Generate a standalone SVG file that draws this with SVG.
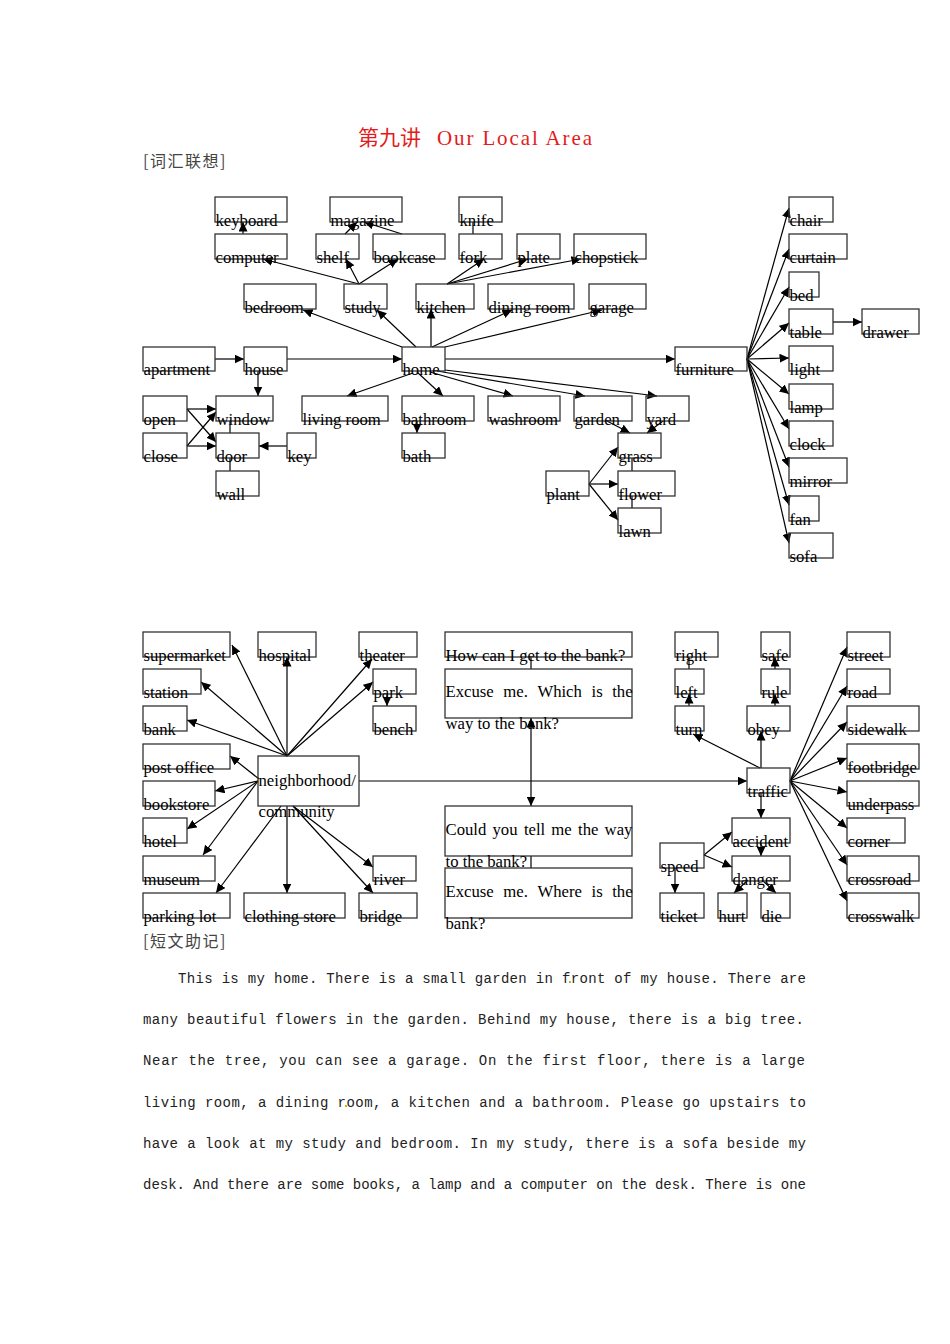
<svg xmlns="http://www.w3.org/2000/svg" width="950" height="1344" viewBox="0 0 950 1344">
<defs>
<marker id="ah" markerUnits="userSpaceOnUse" markerWidth="10" markerHeight="9" refX="9.5" refY="4.5" orient="auto-start-reverse">
<path d="M0,0 L9.5,4.5 L0,9 z" fill="#000"/>
</marker>
</defs>
<style>
rect{fill:none;stroke:#333;stroke-width:1.3}
text{font-family:"Liberation Serif","Times New Roman",serif;font-size:16.7px;fill:#000}
.e line{stroke:#000;stroke-width:1.2}
.a{marker-end:url(#ah)}
.p{font-family:"Liberation Mono","Courier New",monospace;font-size:14px;fill:#222}
.h{font-family:"Noto Sans CJK SC",sans-serif;font-size:16px;fill:#444;letter-spacing:1.5px}
</style>
<rect width="950" height="1344" fill="#fff" style="fill:#fff;stroke:none"/>
<text x="358" y="145" style="fill:#e31b1b"><tspan style="font-family:'Noto Sans CJK SC',sans-serif;font-size:21px">第九讲</tspan><tspan x="437" style="font-family:'Liberation Serif',serif;font-size:21px" textLength="155" lengthAdjust="spacing">Our Local Area</tspan></text>
<text class="h" x="143" y="167">[词汇联想]</text>
<text class="h" x="143" y="947">[短文助记]</text>

<g class="e" id="connectors">
<line class="a" x1="243" y1="234" x2="243" y2="222"/>
<line class="a" x1="345" y1="234" x2="357" y2="222"/>
<line class="a" x1="402" y1="234" x2="364" y2="222"/>
<line x1="473" y1="222" x2="473" y2="234"/>
<line class="a" x1="359" y1="284" x2="263" y2="259"/>
<line class="a" x1="359" y1="284" x2="346" y2="259"/>
<line class="a" x1="359" y1="284" x2="398" y2="259"/>
<line class="a" x1="447" y1="284" x2="484" y2="259"/>
<line class="a" x1="447" y1="284" x2="528" y2="259"/>
<line class="a" x1="447" y1="284" x2="581" y2="259"/>
<line class="a" x1="402" y1="347" x2="303" y2="310"/>
<line class="a" x1="416" y1="347" x2="377" y2="310"/>
<line class="a" x1="431" y1="347" x2="431" y2="309"/>
<line class="a" x1="432" y1="347" x2="512" y2="310"/>
<line class="a" x1="445" y1="347" x2="602" y2="310"/>
<line class="a" x1="215" y1="359" x2="244" y2="359"/>
<line class="a" x1="287" y1="359" x2="402" y2="359"/>
<line class="a" x1="445" y1="359" x2="675" y2="359"/>
<line class="a" x1="258" y1="371" x2="258" y2="396"/>
<line class="a" x1="187" y1="409" x2="216" y2="409"/>
<line class="a" x1="187" y1="409" x2="216" y2="442"/>
<line class="a" x1="187" y1="446" x2="216" y2="412"/>
<line class="a" x1="187" y1="446" x2="216" y2="446"/>
<line x1="230" y1="421" x2="230" y2="433"/>
<line x1="230" y1="458" x2="230" y2="471"/>
<line class="a" x1="287" y1="446" x2="259" y2="446"/>
<line class="a" x1="413" y1="373" x2="347" y2="396"/>
<line class="a" x1="417" y1="372" x2="443" y2="396"/>
<line class="a" x1="430" y1="372" x2="513" y2="396"/>
<line class="a" x1="437" y1="371" x2="585" y2="396"/>
<line class="a" x1="445" y1="370" x2="657" y2="396"/>
<line class="a" x1="417" y1="421" x2="417" y2="433"/>
<line class="a" x1="607" y1="421" x2="630" y2="433"/>
<line class="a" x1="663" y1="421" x2="647" y2="433"/>
<line x1="632" y1="458" x2="632" y2="471"/>
<line x1="632" y1="496" x2="632" y2="508"/>
<line class="a" x1="589" y1="484" x2="618" y2="447"/>
<line class="a" x1="589" y1="484" x2="618" y2="484"/>
<line class="a" x1="589" y1="484" x2="618" y2="520"/>
<line class="a" x1="747" y1="359" x2="789" y2="208"/>
<line class="a" x1="747" y1="359" x2="789" y2="249"/>
<line class="a" x1="747" y1="359" x2="789" y2="287"/>
<line class="a" x1="747" y1="359" x2="789" y2="323"/>
<line class="a" x1="747" y1="359" x2="789" y2="358"/>
<line class="a" x1="747" y1="359" x2="789" y2="394"/>
<line class="a" x1="747" y1="359" x2="789" y2="429"/>
<line class="a" x1="747" y1="359" x2="789" y2="467"/>
<line class="a" x1="747" y1="359" x2="789" y2="505"/>
<line class="a" x1="747" y1="359" x2="789" y2="543"/>
<line class="a" x1="833" y1="322" x2="862" y2="322"/>

<line class="a" x1="287" y1="756" x2="287" y2="657"/>
<line class="a" x1="287" y1="756" x2="232" y2="645"/>
<line class="a" x1="287" y1="756" x2="372" y2="659"/>
<line class="a" x1="287" y1="756" x2="373" y2="682"/>
<line class="a" x1="287" y1="756" x2="201" y2="682"/>
<line class="a" x1="287" y1="756" x2="187" y2="720"/>
<line class="a" x1="259" y1="779" x2="230" y2="756"/>
<line class="a" x1="258" y1="781" x2="215" y2="791"/>
<line class="a" x1="258" y1="781" x2="187" y2="829"/>
<line class="a" x1="258" y1="781" x2="203" y2="855"/>
<line class="a" x1="281" y1="806" x2="216" y2="893"/>
<line class="a" x1="287" y1="806" x2="287" y2="893"/>
<line class="a" x1="293" y1="806" x2="373" y2="867"/>
<line class="a" x1="293" y1="806" x2="373" y2="893"/>
<line class="a" x1="387" y1="694" x2="387" y2="706"/>
<line x1="531" y1="657" x2="531" y2="669"/>
<line class="a" x1="531" y1="718" x2="531" y2="806" style="marker-start:url(#ah)"/>
<line x1="531" y1="856" x2="531" y2="868"/>
<line class="a" x1="359" y1="781" x2="747" y2="781"/>
<line class="a" x1="760" y1="768" x2="693" y2="734"/>
<line class="a" x1="761" y1="768" x2="761" y2="731"/>
<line class="a" x1="775" y1="706" x2="775" y2="694"/>
<line class="a" x1="775" y1="669" x2="775" y2="657"/>
<line class="a" x1="689" y1="706" x2="689" y2="694"/>
<line x1="689" y1="669" x2="689" y2="657"/>
<line class="a" x1="761" y1="793" x2="761" y2="818"/>
<line class="a" x1="761" y1="843" x2="761" y2="856"/>
<line class="a" x1="704" y1="855" x2="732" y2="832"/>
<line class="a" x1="704" y1="855" x2="732" y2="867"/>
<line class="a" x1="675" y1="868" x2="675" y2="893"/>
<line class="a" x1="748" y1="880" x2="734" y2="893"/>
<line class="a" x1="762" y1="880" x2="776" y2="893"/>
<line class="a" x1="790" y1="781" x2="847" y2="647"/>
<line class="a" x1="790" y1="781" x2="847" y2="686"/>
<line class="a" x1="790" y1="781" x2="847" y2="722"/>
<line class="a" x1="790" y1="781" x2="847" y2="758"/>
<line class="a" x1="790" y1="781" x2="847" y2="792"/>
<line class="a" x1="790" y1="781" x2="847" y2="828"/>
<line class="a" x1="790" y1="781" x2="847" y2="865"/>
<line class="a" x1="790" y1="781" x2="847" y2="901"/>
</g>

<g id="n-keyboard"><rect x="215" y="197" width="72" height="25"/><text x="215.5" y="226">keyboard</text></g>
<g id="n-magazine"><rect x="330" y="197" width="72" height="25"/><text x="330.5" y="226">magazine</text></g>
<g id="n-knife"><rect x="459" y="197" width="43" height="25"/><text x="459.5" y="226">knife</text></g>
<g id="n-computer"><rect x="215" y="234" width="72" height="25"/><text x="215.5" y="263">computer</text></g>
<g id="n-shelf"><rect x="316" y="234" width="43" height="25"/><text x="316.5" y="263">shelf</text></g>
<g id="n-bookcase"><rect x="373" y="234" width="72" height="25"/><text x="373.5" y="263">bookcase</text></g>
<g id="n-fork"><rect x="459" y="234" width="43" height="25"/><text x="459.5" y="263">fork</text></g>
<g id="n-plate"><rect x="517" y="234" width="43" height="25"/><text x="517.5" y="263">plate</text></g>
<g id="n-chopstick"><rect x="574" y="234" width="72" height="25"/><text x="574.5" y="263">chopstick</text></g>
<g id="n-bedroom"><rect x="244" y="284" width="72" height="25"/><text x="244.5" y="313">bedroom</text></g>
<g id="n-study"><rect x="344" y="284" width="43" height="25"/><text x="344.5" y="313">study</text></g>
<g id="n-kitchen"><rect x="416" y="284" width="58" height="25"/><text x="416.5" y="313">kitchen</text></g>
<g id="n-dining-room"><rect x="488" y="284" width="86" height="25"/><text x="488.5" y="313">dining room</text></g>
<g id="n-garage"><rect x="589" y="284" width="57" height="25"/><text x="589.5" y="313">garage</text></g>
<g id="n-apartment"><rect x="143" y="347" width="72" height="24"/><text x="143.5" y="375">apartment</text></g>
<g id="n-house"><rect x="244" y="347" width="43" height="24"/><text x="244.5" y="375">house</text></g>
<g id="n-home"><rect x="402" y="347" width="43" height="24"/><text x="402.5" y="375">home</text></g>
<g id="n-furniture"><rect x="675" y="347" width="72" height="24"/><text x="675.5" y="375">furniture</text></g>
<g id="n-open"><rect x="143" y="396" width="44" height="25"/><text x="143.5" y="425">open</text></g>
<g id="n-window"><rect x="216" y="396" width="57" height="25"/><text x="216.5" y="425">window</text></g>
<g id="n-living-room"><rect x="302" y="396" width="86" height="25"/><text x="302.5" y="425">living room</text></g>
<g id="n-bathroom"><rect x="402" y="396" width="72" height="25"/><text x="402.5" y="425">bathroom</text></g>
<g id="n-washroom"><rect x="488" y="396" width="72" height="25"/><text x="488.5" y="425">washroom</text></g>
<g id="n-garden"><rect x="574" y="396" width="58" height="25"/><text x="574.5" y="425">garden</text></g>
<g id="n-yard"><rect x="646" y="396" width="43" height="25"/><text x="646.5" y="425">yard</text></g>
<g id="n-close"><rect x="143" y="433" width="44" height="25"/><text x="143.5" y="462">close</text></g>
<g id="n-door"><rect x="216" y="433" width="43" height="25"/><text x="216.5" y="462">door</text></g>
<g id="n-key"><rect x="287" y="433" width="29" height="25"/><text x="287.5" y="462">key</text></g>
<g id="n-bath"><rect x="402" y="433" width="43" height="25"/><text x="402.5" y="462">bath</text></g>
<g id="n-grass"><rect x="618" y="433" width="43" height="25"/><text x="618.5" y="462">grass</text></g>
<g id="n-wall"><rect x="216" y="471" width="43" height="25"/><text x="216.5" y="500">wall</text></g>
<g id="n-plant"><rect x="546" y="471" width="43" height="25"/><text x="546.5" y="500">plant</text></g>
<g id="n-flower"><rect x="618" y="471" width="57" height="25"/><text x="618.5" y="500">flower</text></g>
<g id="n-lawn"><rect x="618" y="508" width="43" height="25"/><text x="618.5" y="537">lawn</text></g>
<g id="n-chair"><rect x="789" y="197" width="44" height="25"/><text x="789.5" y="226">chair</text></g>
<g id="n-curtain"><rect x="789" y="234" width="58" height="25"/><text x="789.5" y="263">curtain</text></g>
<g id="n-bed"><rect x="789" y="272" width="30" height="25"/><text x="789.5" y="301">bed</text></g>
<g id="n-table"><rect x="789" y="309" width="44" height="25"/><text x="789.5" y="338">table</text></g>
<g id="n-drawer"><rect x="862" y="309" width="57" height="25"/><text x="862.5" y="338">drawer</text></g>
<g id="n-light"><rect x="789" y="346" width="44" height="25"/><text x="789.5" y="375">light</text></g>
<g id="n-lamp"><rect x="789" y="384" width="44" height="25"/><text x="789.5" y="413">lamp</text></g>
<g id="n-clock"><rect x="789" y="421" width="44" height="25"/><text x="789.5" y="450">clock</text></g>
<g id="n-mirror"><rect x="789" y="458" width="58" height="25"/><text x="789.5" y="487">mirror</text></g>
<g id="n-fan"><rect x="789" y="496" width="30" height="25"/><text x="789.5" y="525">fan</text></g>
<g id="n-sofa"><rect x="789" y="533" width="44" height="25"/><text x="789.5" y="562">sofa</text></g>

<g id="n-supermarket"><rect x="143" y="632" width="87" height="25"/><text x="143.5" y="661">supermarket</text></g>
<g id="n-hospital"><rect x="258" y="632" width="58" height="25"/><text x="258.5" y="661">hospital</text></g>
<g id="n-theater"><rect x="359" y="632" width="58" height="25"/><text x="359.5" y="661">theater</text></g>
<g id="n-how"><rect x="445" y="632" width="187" height="25"/><text x="445.5" y="661">How can I get to the bank?</text></g>
<g id="n-right"><rect x="675" y="632" width="43" height="25"/><text x="675.5" y="661">right</text></g>
<g id="n-safe"><rect x="761" y="632" width="29" height="25"/><text x="761.5" y="661">safe</text></g>
<g id="n-street"><rect x="847" y="632" width="43" height="25"/><text x="847.5" y="661">street</text></g>
<g id="n-station"><rect x="143" y="669" width="58" height="25"/><text x="143.5" y="698">station</text></g>
<g id="n-park"><rect x="373" y="669" width="43" height="25"/><text x="373.5" y="698">park</text></g>
<g id="n-which"><rect x="445" y="669" width="187" height="49"/><text y="697"><tspan x="445.5">Excuse</tspan><tspan x="503.3">me.</tspan><tspan x="537.4">Which</tspan><tspan x="591.5">is</tspan><tspan x="612.2">the</tspan></text><text x="445.5" y="729">way to the bank?</text></g>
<g id="n-left"><rect x="675" y="669" width="29" height="25"/><text x="675.5" y="698">left</text></g>
<g id="n-rule"><rect x="761" y="669" width="29" height="25"/><text x="761.5" y="698">rule</text></g>
<g id="n-road"><rect x="847" y="669" width="43" height="25"/><text x="847.5" y="698">road</text></g>
<g id="n-bank"><rect x="143" y="706" width="44" height="25"/><text x="143.5" y="735">bank</text></g>
<g id="n-bench"><rect x="373" y="706" width="43" height="25"/><text x="373.5" y="735">bench</text></g>
<g id="n-turn"><rect x="675" y="706" width="29" height="25"/><text x="675.5" y="735">turn</text></g>
<g id="n-obey"><rect x="747" y="706" width="43" height="25"/><text x="747.5" y="735">obey</text></g>
<g id="n-sidewalk"><rect x="847" y="706" width="72" height="25"/><text x="847.5" y="735">sidewalk</text></g>
<g id="n-post-office"><rect x="143" y="744" width="87" height="25"/><text x="143.5" y="773">post office</text></g>
<g id="n-footbridge"><rect x="847" y="744" width="72" height="25"/><text x="847.5" y="773">footbridge</text></g>
<g id="n-neighborhood"><rect x="258" y="756" width="101" height="50"/><text x="258.5" y="786">neighborhood/</text><text x="258.5" y="817">community</text></g>
<g id="n-traffic"><rect x="747" y="768" width="43" height="25"/><text x="747.5" y="797">traffic</text></g>
<g id="n-bookstore"><rect x="143" y="781" width="72" height="25"/><text x="143.5" y="810">bookstore</text></g>
<g id="n-underpass"><rect x="847" y="781" width="72" height="25"/><text x="847.5" y="810">underpass</text></g>
<g id="n-could"><rect x="445" y="806" width="187" height="50"/><text y="835"><tspan x="445.5">Could</tspan><tspan x="492.5">you</tspan><tspan x="523.9">tell</tspan><tspan x="551.3">me</tspan><tspan x="578">the</tspan><tspan x="604.6">way</tspan></text><text x="445.5" y="867">to the bank?</text></g>
<g id="n-hotel"><rect x="143" y="818" width="44" height="25"/><text x="143.5" y="847">hotel</text></g>
<g id="n-accident"><rect x="732" y="818" width="58" height="25"/><text x="732.5" y="847">accident</text></g>
<g id="n-corner"><rect x="847" y="818" width="58" height="25"/><text x="847.5" y="847">corner</text></g>
<g id="n-speed"><rect x="660" y="843" width="44" height="25"/><text x="660.5" y="872">speed</text></g>
<g id="n-museum"><rect x="143" y="856" width="72" height="25"/><text x="143.5" y="885">museum</text></g>
<g id="n-river"><rect x="373" y="856" width="43" height="25"/><text x="373.5" y="885">river</text></g>
<g id="n-danger"><rect x="732" y="856" width="58" height="25"/><text x="732.5" y="885">danger</text></g>
<g id="n-crossroad"><rect x="847" y="856" width="72" height="25"/><text x="847.5" y="885">crossroad</text></g>
<g id="n-where"><rect x="445" y="868" width="187" height="50"/><text y="897"><tspan x="445.5">Excuse</tspan><tspan x="503.3">me.</tspan><tspan x="537.4">Where</tspan><tspan x="591.5">is</tspan><tspan x="612.2">the</tspan></text><text x="445.5" y="929">bank?</text></g>
<g id="n-parking-lot"><rect x="143" y="893" width="87" height="25"/><text x="143.5" y="922">parking lot</text></g>
<g id="n-clothing-store"><rect x="244" y="893" width="101" height="25"/><text x="244.5" y="922">clothing store</text></g>
<g id="n-bridge"><rect x="359" y="893" width="58" height="25"/><text x="359.5" y="922">bridge</text></g>
<g id="n-ticket"><rect x="660" y="893" width="44" height="25"/><text x="660.5" y="922">ticket</text></g>
<g id="n-hurt"><rect x="718" y="893" width="29" height="25"/><text x="718.5" y="922">hurt</text></g>
<g id="n-die"><rect x="761" y="893" width="29" height="25"/><text x="761.5" y="922">die</text></g>
<g id="n-crosswalk"><rect x="847" y="893" width="72" height="25"/><text x="847.5" y="922">crosswalk</text></g>

<g id="passage">
<text class="p" x="178" y="983" textLength="628" lengthAdjust="spacing">This is my home. There is a small garden in front of my house. There are</text>
<text class="p" x="143" y="1024" textLength="661" lengthAdjust="spacing">many beautiful flowers in the garden. Behind my house, there is a big tree.</text>
<text class="p" x="143" y="1065" textLength="662" lengthAdjust="spacing">Near the tree, you can see a garage. On the first floor, there is a large</text>
<text class="p" x="143" y="1107" textLength="663" lengthAdjust="spacing">living room, a dining room, a kitchen and a bathroom. Please go upstairs to</text>
<text class="p" x="143" y="1148" textLength="663" lengthAdjust="spacing">have a look at my study and bedroom. In my study, there is a sofa beside my</text>
<text class="p" x="143" y="1189" textLength="663" lengthAdjust="spacing">desk. And there are some books, a lamp and a computer on the desk. There is one</text>
<rect x="569" y="981" width="2" height="2" style="fill:#c8b400;stroke:none"/>
<rect x="345" y="1105" width="2" height="2" style="fill:#c8b400;stroke:none"/>
</g>
</svg>
